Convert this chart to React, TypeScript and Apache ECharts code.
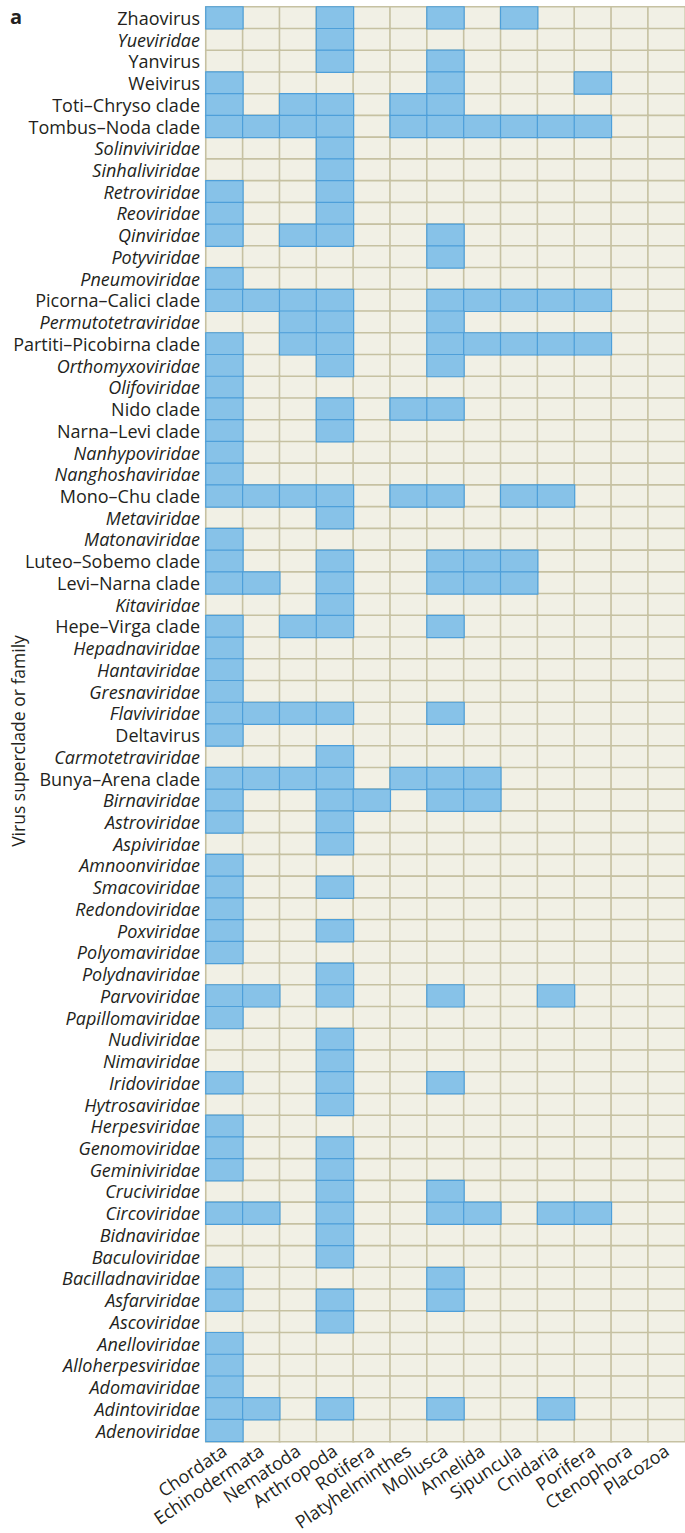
import React, { useEffect, useRef } from "react";
import * as echarts from "echarts";

const hosts = [
  "Chordata", "Echinodermata", "Nematoda", "Arthropoda", "Rotifera", "Platyhelminthes",
  "Mollusca", "Annelida", "Sipuncula", "Cnidaria", "Porifera", "Ctenophora", "Placozoa",
];

const viruses = [
  "Zhaovirus", "Yueviridae", "Yanvirus", "Weivirus", "Toti–Chryso clade", "Tombus–Noda clade",
  "Solinviviridae", "Sinhaliviridae", "Retroviridae", "Reoviridae", "Qinviridae", "Potyviridae",
  "Pneumoviridae", "Picorna–Calici clade", "Permutotetraviridae", "Partiti–Picobirna clade",
  "Orthomyxoviridae", "Olifoviridae", "Nido clade", "Narna–Levi clade", "Nanhypoviridae",
  "Nanghoshaviridae", "Mono–Chu clade", "Metaviridae", "Matonaviridae", "Luteo–Sobemo clade",
  "Levi–Narna clade", "Kitaviridae", "Hepe–Virga clade", "Hepadnaviridae", "Hantaviridae",
  "Gresnaviridae", "Flaviviridae", "Deltavirus", "Carmotetraviridae", "Bunya–Arena clade",
  "Birnaviridae", "Astroviridae", "Aspiviridae", "Amnoonviridae", "Smacoviridae",
  "Redondoviridae", "Poxviridae", "Polyomaviridae", "Polydnaviridae", "Parvoviridae",
  "Papillomaviridae", "Nudiviridae", "Nimaviridae", "Iridoviridae", "Hytrosaviridae",
  "Herpesviridae", "Genomoviridae", "Geminiviridae", "Cruciviridae", "Circoviridae",
  "Bidnaviridae", "Baculoviridae", "Bacilladnaviridae", "Asfarviridae", "Ascoviridae",
  "Anelloviridae", "Alloherpesviridae", "Adomaviridae", "Adintoviridae", "Adenoviridae",
];

// host indices (into hosts) in which each virus group was found, same order as viruses
const presence: number[][] = [
  [0, 3, 6, 8], [3], [3, 6], [0, 6, 10], [0, 2, 3, 5, 6], [0, 1, 2, 3, 5, 6, 7, 8, 9, 10],
  [3], [3], [0, 3], [0, 3], [0, 2, 3, 6], [6],
  [0], [0, 1, 2, 3, 6, 7, 8, 9, 10], [2, 3, 6], [0, 2, 3, 6, 7, 8, 9, 10],
  [0, 3, 6], [0], [0, 3, 5, 6], [0, 3], [0],
  [0], [0, 1, 2, 3, 5, 6, 8, 9], [3], [0], [0, 3, 6, 7, 8],
  [0, 1, 3, 6, 7, 8], [3], [0, 2, 3, 6], [0], [0],
  [0], [0, 1, 2, 3, 6], [0], [3], [0, 1, 2, 3, 5, 6, 7],
  [0, 3, 4, 6, 7], [0, 3], [3], [0], [0, 3],
  [0], [0, 3], [0], [3], [0, 1, 3, 6, 9],
  [0], [3], [3], [0, 3, 6], [3],
  [0], [0, 3], [0, 3], [3, 6], [0, 1, 3, 6, 7, 9, 10],
  [3], [3], [0, 6], [0, 3, 6], [3],
  [0], [0], [0], [0, 1, 3, 6, 9], [0],
];

const FONT = "'Open Sans', 'Noto Sans', sans-serif";
const TEXT = "#231f20";
const CREAM = "#f1f0e5";
const BLUE = "#87c2e8";

export default function App() {
  const ref = useRef<HTMLDivElement>(null);

  useEffect(() => {
    if (!ref.current) return;
    const chart = echarts.init(ref.current, undefined, { renderer: "svg" });

    const allCells: number[][] = [];
    const hitCells: number[][] = [];
    viruses.forEach((_, yi) => {
      hosts.forEach((__, xi) => {
        allCells.push([xi, yi, 0]);
      });
      presence[yi].forEach((xi) => hitCells.push([xi, yi, 1]));
    });

    chart.setOption({
      animation: false,
      backgroundColor: "#ffffff",
      grid: { left: 206, top: 7, right: -3, bottom: 90, containLabel: false },
      visualMap: [
        {
          type: "piecewise",
          show: false,
          seriesIndex: 0,
          dimension: 2,
          pieces: [{ value: 0, color: CREAM }],
        },
        {
          type: "piecewise",
          show: false,
          seriesIndex: 1,
          dimension: 2,
          pieces: [{ value: 1, color: BLUE }],
        },
      ],
      xAxis: {
        type: "category",
        data: hosts,
        axisLine: { show: false },
        axisTick: { show: false },
        splitLine: { show: false },
        axisLabel: {
          interval: 0,
          rotate: 34,
          margin: 7,
          fontSize: 18,
          color: TEXT,
          fontFamily: FONT,
        },
      },
      yAxis: {
        type: "category",
        data: viruses,
        inverse: true,
        axisLine: { show: false },
        axisTick: { show: false },
        splitLine: { show: false },
        axisLabel: {
          interval: 0,
          margin: 6,
          fontSize: 18,
          color: TEXT,
          fontFamily: FONT,
          formatter: (v: string) => (/viridae$/.test(v) ? `{it|${v}}` : `{n|${v}}`),
          rich: {
            it: { fontStyle: "italic", fontSize: 18, color: TEXT, fontFamily: FONT },
            n: { fontSize: 18, color: TEXT, fontFamily: FONT },
          },
        },
      },
      series: [
        {
          type: "heatmap",
          data: allCells,
          silent: true,
          itemStyle: { color: CREAM, borderColor: "#c6c1a2", borderWidth: 1.6 },
          emphasis: { disabled: true },
        },
        {
          type: "heatmap",
          data: hitCells,
          silent: true,
          itemStyle: { color: BLUE, borderColor: "#4e9fd9", borderWidth: 1.2 },
          emphasis: { disabled: true },
        },
      ],
      graphic: [
        {
          type: "text",
          left: 10,
          top: 6,
          style: { text: "a", fontSize: 20, fontWeight: "bold", fill: TEXT, fontFamily: FONT },
        },
        {
          type: "text",
          x: 18,
          y: 741,
          rotation: Math.PI / 2,
          style: {
            text: "Virus superclade or family",
            fontSize: 17.5,
            fill: TEXT,
            fontFamily: FONT,
            align: "center",
            verticalAlign: "middle",
          },
        },
      ],
    });

    return () => chart.dispose();
  }, []);

  return (
    <div
      ref={ref}
      style={{ position: "absolute", left: 0, top: 0, width: 685, height: 1533 }}
    />
  );
}
